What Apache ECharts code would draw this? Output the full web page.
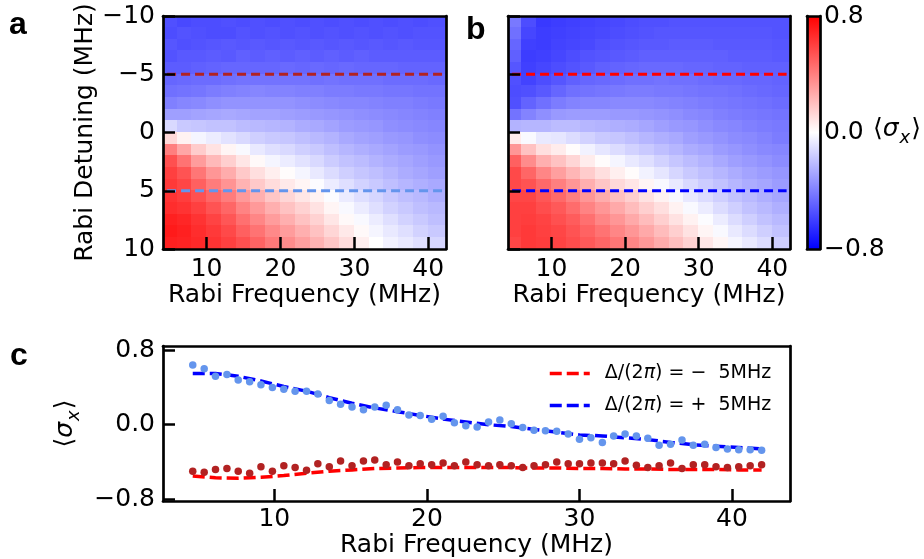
<!DOCTYPE html>
<html><head><meta charset="utf-8">
<script src="https://cdn.jsdelivr.net/npm/echarts@6/dist/echarts.min.js"></script>
<style>html,body{margin:0;padding:0;background:#fff}#c{width:924px;height:559px}</style>
</head><body><div id="c"></div>
<script>
// ---------- data ----------
const rabiCols = [5,7,9,11,13,15,17,19,21,23,25,27,29,31,33,35,37,39,41];
const detuningRows = [-9.5,-8.5,-7.5,-6.5,-5.5,-4.5,-3.5,-2.5,-1.5,-0.5,0.5,1.5,2.5,3.5,4.5,5.5,6.5,7.5,8.5,9.5];
// panel a: measured <sigma_x>, one array per Rabi-frequency column (top row = -9.5 MHz)
const expCols = [
[-0.55,-0.56,-0.53,-0.54,-0.51,-0.48,-0.45,-0.40,-0.30,-0.12,0.12,0.40,0.55,0.60,0.62,0.64,0.66,0.70,0.72,0.70],
[-0.57,-0.54,-0.55,-0.52,-0.51,-0.47,-0.44,-0.38,-0.30,-0.17,0.04,0.28,0.44,0.54,0.58,0.61,0.64,0.68,0.70,0.69],
[-0.56,-0.55,-0.54,-0.52,-0.50,-0.46,-0.43,-0.37,-0.29,-0.18,-0.03,0.16,0.31,0.43,0.50,0.55,0.60,0.64,0.66,0.67],
[-0.56,-0.56,-0.53,-0.51,-0.49,-0.46,-0.41,-0.35,-0.28,-0.19,-0.06,0.09,0.22,0.33,0.41,0.48,0.54,0.59,0.62,0.64],
[-0.55,-0.56,-0.52,-0.52,-0.48,-0.45,-0.40,-0.34,-0.27,-0.19,-0.09,0.03,0.15,0.26,0.34,0.41,0.48,0.53,0.57,0.60],
[-0.56,-0.54,-0.53,-0.50,-0.48,-0.44,-0.39,-0.34,-0.28,-0.21,-0.12,-0.02,0.08,0.17,0.24,0.32,0.39,0.45,0.50,0.55],
[-0.55,-0.55,-0.52,-0.51,-0.48,-0.44,-0.38,-0.34,-0.29,-0.22,-0.15,-0.07,0.02,0.10,0.17,0.25,0.32,0.38,0.44,0.49],
[-0.56,-0.54,-0.53,-0.50,-0.48,-0.44,-0.39,-0.34,-0.29,-0.23,-0.17,-0.10,-0.03,0.05,0.11,0.18,0.25,0.31,0.37,0.42],
[-0.55,-0.55,-0.52,-0.51,-0.47,-0.44,-0.39,-0.34,-0.30,-0.24,-0.18,-0.12,-0.06,0.01,0.07,0.13,0.19,0.25,0.31,0.36],
[-0.56,-0.54,-0.53,-0.50,-0.48,-0.44,-0.40,-0.35,-0.31,-0.26,-0.20,-0.15,-0.09,-0.03,0.03,0.08,0.14,0.19,0.25,0.30],
[-0.55,-0.55,-0.52,-0.51,-0.47,-0.45,-0.40,-0.36,-0.32,-0.27,-0.22,-0.17,-0.12,-0.07,-0.01,0.04,0.09,0.14,0.19,0.24],
[-0.56,-0.54,-0.53,-0.50,-0.48,-0.44,-0.41,-0.37,-0.33,-0.29,-0.24,-0.20,-0.16,-0.11,-0.06,-0.01,0.03,0.08,0.13,0.18],
[-0.55,-0.55,-0.52,-0.51,-0.47,-0.45,-0.41,-0.38,-0.34,-0.31,-0.27,-0.23,-0.19,-0.15,-0.10,-0.06,-0.02,0.02,0.07,0.11],
[-0.56,-0.54,-0.53,-0.50,-0.48,-0.45,-0.42,-0.38,-0.35,-0.32,-0.29,-0.25,-0.21,-0.18,-0.14,-0.10,-0.06,-0.02,0.02,0.05],
[-0.55,-0.55,-0.52,-0.51,-0.48,-0.45,-0.42,-0.39,-0.36,-0.33,-0.30,-0.27,-0.24,-0.20,-0.17,-0.13,-0.10,-0.06,-0.03,0.00],
[-0.56,-0.54,-0.53,-0.51,-0.48,-0.46,-0.43,-0.40,-0.37,-0.35,-0.32,-0.29,-0.26,-0.23,-0.20,-0.17,-0.14,-0.10,-0.07,-0.04],
[-0.55,-0.55,-0.52,-0.51,-0.49,-0.46,-0.43,-0.40,-0.38,-0.36,-0.33,-0.31,-0.28,-0.26,-0.23,-0.20,-0.17,-0.14,-0.10,-0.07],
[-0.56,-0.54,-0.53,-0.51,-0.49,-0.46,-0.44,-0.41,-0.39,-0.37,-0.35,-0.32,-0.30,-0.28,-0.25,-0.22,-0.20,-0.17,-0.14,-0.10],
[-0.55,-0.54,-0.53,-0.51,-0.49,-0.47,-0.44,-0.42,-0.40,-0.38,-0.36,-0.34,-0.32,-0.30,-0.27,-0.25,-0.22,-0.20,-0.17,-0.13]
];
// panel b: simulated <sigma_x>
const theoryCols = [
[-0.42,-0.45,-0.48,-0.50,-0.53,-0.55,-0.56,-0.55,-0.44,-0.24,0.06,0.33,0.50,0.57,0.57,0.58,0.60,0.60,0.60,0.58],
[-0.56,-0.58,-0.60,-0.61,-0.60,-0.59,-0.55,-0.49,-0.39,-0.23,-0.02,0.19,0.36,0.48,0.54,0.58,0.60,0.61,0.62,0.62],
[-0.62,-0.61,-0.61,-0.60,-0.58,-0.56,-0.52,-0.45,-0.35,-0.23,-0.07,0.10,0.25,0.38,0.47,0.53,0.56,0.59,0.60,0.61],
[-0.61,-0.60,-0.59,-0.58,-0.56,-0.53,-0.48,-0.41,-0.32,-0.21,-0.08,0.06,0.19,0.30,0.40,0.47,0.52,0.55,0.58,0.59],
[-0.60,-0.59,-0.58,-0.56,-0.54,-0.50,-0.45,-0.39,-0.31,-0.21,-0.11,0.01,0.13,0.23,0.33,0.40,0.46,0.51,0.54,0.56],
[-0.59,-0.58,-0.57,-0.54,-0.52,-0.48,-0.44,-0.38,-0.31,-0.23,-0.14,-0.04,0.06,0.16,0.25,0.33,0.39,0.45,0.49,0.52],
[-0.58,-0.57,-0.55,-0.53,-0.50,-0.47,-0.43,-0.38,-0.31,-0.24,-0.17,-0.08,0.01,0.10,0.18,0.26,0.33,0.38,0.44,0.48],
[-0.57,-0.56,-0.54,-0.52,-0.49,-0.46,-0.42,-0.37,-0.32,-0.25,-0.18,-0.11,-0.03,0.05,0.12,0.20,0.27,0.33,0.38,0.43],
[-0.56,-0.55,-0.53,-0.51,-0.48,-0.45,-0.41,-0.37,-0.32,-0.26,-0.20,-0.14,-0.07,0.01,0.08,0.15,0.21,0.27,0.33,0.38],
[-0.55,-0.54,-0.52,-0.50,-0.47,-0.45,-0.41,-0.37,-0.33,-0.28,-0.23,-0.17,-0.10,-0.04,0.03,0.09,0.15,0.21,0.27,0.32],
[-0.55,-0.53,-0.52,-0.50,-0.47,-0.44,-0.42,-0.38,-0.34,-0.30,-0.25,-0.20,-0.14,-0.08,-0.02,0.04,0.10,0.15,0.21,0.26],
[-0.54,-0.53,-0.51,-0.50,-0.47,-0.45,-0.42,-0.39,-0.35,-0.32,-0.27,-0.23,-0.18,-0.13,-0.07,-0.02,0.04,0.09,0.15,0.20],
[-0.54,-0.53,-0.51,-0.50,-0.48,-0.45,-0.43,-0.40,-0.37,-0.33,-0.30,-0.26,-0.21,-0.17,-0.12,-0.07,-0.02,0.04,0.09,0.14],
[-0.54,-0.53,-0.51,-0.50,-0.48,-0.46,-0.44,-0.41,-0.38,-0.35,-0.32,-0.28,-0.24,-0.20,-0.16,-0.11,-0.06,-0.01,0.03,0.08],
[-0.54,-0.53,-0.52,-0.50,-0.49,-0.47,-0.44,-0.42,-0.40,-0.37,-0.34,-0.31,-0.27,-0.23,-0.19,-0.15,-0.11,-0.06,-0.02,0.03],
[-0.54,-0.53,-0.52,-0.51,-0.49,-0.47,-0.45,-0.43,-0.41,-0.38,-0.36,-0.33,-0.30,-0.26,-0.23,-0.19,-0.15,-0.11,-0.07,-0.03],
[-0.54,-0.53,-0.52,-0.51,-0.50,-0.48,-0.46,-0.44,-0.42,-0.40,-0.37,-0.35,-0.32,-0.29,-0.26,-0.22,-0.19,-0.15,-0.11,-0.07],
[-0.54,-0.53,-0.52,-0.51,-0.50,-0.48,-0.47,-0.45,-0.43,-0.41,-0.39,-0.37,-0.34,-0.31,-0.28,-0.25,-0.22,-0.19,-0.15,-0.11],
[-0.54,-0.54,-0.53,-0.52,-0.50,-0.49,-0.48,-0.46,-0.44,-0.42,-0.41,-0.38,-0.36,-0.33,-0.31,-0.28,-0.25,-0.22,-0.19,-0.15]
];
// panel c: measured points along the two cuts
const rabiPts = [4.65,5.40,6.14,6.89,7.63,8.38,9.12,9.87,10.62,11.36,12.11,12.85,13.60,14.34,15.09,15.84,16.58,17.33,18.07,18.82,19.56,20.31,21.06,21.80,22.55,23.29,24.04,24.78,25.53,26.28,27.02,27.77,28.51,29.26,30.00,30.75,31.50,32.24,32.99,33.73,34.48,35.22,35.97,36.72,37.46,38.21,38.95,39.70,40.44,41.19,41.94];
const expPlus5 = [0.64,0.60,0.52,0.54,0.48,0.46,0.43,0.40,0.38,0.36,0.36,0.33,0.26,0.22,0.19,0.16,0.19,0.21,0.16,0.105,0.10,0.06,0.09,0.02,-0.01,-0.025,0.03,0.05,0.01,-0.03,-0.06,-0.065,-0.07,-0.10,-0.155,-0.14,-0.19,-0.12,-0.10,-0.12,-0.145,-0.22,-0.21,-0.165,-0.22,-0.21,-0.245,-0.26,-0.27,-0.27,-0.275];
const expMinus5 = [-0.50,-0.51,-0.48,-0.47,-0.50,-0.52,-0.45,-0.50,-0.44,-0.46,-0.49,-0.42,-0.45,-0.39,-0.44,-0.39,-0.38,-0.43,-0.40,-0.44,-0.42,-0.43,-0.41,-0.44,-0.40,-0.43,-0.44,-0.43,-0.44,-0.46,-0.44,-0.43,-0.40,-0.42,-0.42,-0.41,-0.41,-0.42,-0.39,-0.435,-0.46,-0.44,-0.41,-0.47,-0.43,-0.43,-0.45,-0.46,-0.45,-0.44,-0.43];
// panel c: simulated curves along the two cuts
const theoryX = [4.65,6.14,7.63,9.12,10.62,12.11,13.60,15.09,16.58,18.07,19.56,21.06,22.55,24.04,25.53,27.02,28.51,30.00,31.50,32.99,34.48,35.97,37.46,38.95,40.44,41.94];
const theoryPlus5 = [0.55,0.55,0.52,0.47,0.41,0.36,0.29,0.23,0.18,0.14,0.10,0.06,0.03,0.0,-0.02,-0.05,-0.08,-0.11,-0.12,-0.14,-0.16,-0.19,-0.215,-0.23,-0.245,-0.26];
const theoryMinus5 = [-0.55,-0.57,-0.575,-0.565,-0.545,-0.52,-0.50,-0.485,-0.47,-0.465,-0.46,-0.46,-0.46,-0.46,-0.46,-0.465,-0.465,-0.47,-0.47,-0.475,-0.475,-0.48,-0.48,-0.48,-0.485,-0.485];
// ticks / labels
const freqTicks = [10,20,30,40];
const detuningTicks = [-10,-5,0,5,10];
const sigmaTicks = [-0.8,0,0.8];
const cutDetunings = [-5,5];
const colorMin = -0.8, colorMax = 0.8;
const legendMinus = 'Δ/(2π) = −  5MHz';
const legendPlus = 'Δ/(2π) = +  5MHz';

// ---------- chart ----------
const FONT = 'DejaVu Sans';
const chart = echarts.init(document.getElementById('c'), null, {width:924, height:559});
const minusFmt = v => (v < 0 ? '\u2212' : '') + Math.abs(v);
const fmt1 = v => (v < 0 ? '\u2212' : '') + Math.abs(v).toFixed(1);
const lab = {fontSize:25, fontFamily:FONT, color:'#000', fontWeight:'normal'};
const frame = {show:true, onZero:false, lineStyle:{color:'#000', width:2.7}};
const sigmaRich = {
  b:{fontSize:25, fontFamily:FONT, fontWeight:'normal', color:'#000', verticalAlign:'bottom', padding:[0,0,5,0]},
  s:{fontSize:25, fontFamily:FONT, fontWeight:'normal', fontStyle:'italic', color:'#000', verticalAlign:'bottom', padding:[0,0,5,0]},
  x:{fontSize:18, fontFamily:FONT, fontWeight:'normal', fontStyle:'italic', color:'#000', verticalAlign:'bottom', padding:[0,1,0,1]}
};
const sigmaText = '{b|⟨}{s|σ}{x|x}{b|⟩}';

function plainAxis(gi, min, max, pos, extra) {
  return Object.assign({gridIndex:gi, type:'value', min:min, max:max, position:pos, z:10,
    axisLine:frame, axisTick:{show:false}, axisLabel:{show:false}, splitLine:{show:false}}, extra || {});
}
function tickAxis(gi, min, max, pos, ticks, labels, fmt, margin, extra) {
  return Object.assign({gridIndex:gi, type:'value', min:min, max:max, position:pos, z:10,
    axisLine:frame,
    axisTick:{show:true, inside:true, length:12, lineStyle:{color:'#000', width:2.5}, customValues:ticks},
    axisLabel:Object.assign({show:labels, customValues:ticks, formatter:fmt, margin:margin}, lab),
    splitLine:{show:false}}, extra || {});
}
const xName = {name:'Rabi Frequency (MHz)', nameLocation:'middle', nameGap:34, nameTextStyle:lab};

function heatRender(cols, rows) {
  const dx = cols[1] - cols[0], dy = rows[1] - rows[0];
  const nR = rows.length, nC = cols.length;
  return function (params, api) {
    const ci = Math.floor(params.dataIndex / nR);
    const x = api.value(0), y = api.value(1);
    const xl = x - (ci === 0 ? 2 : 0.5) * dx, xr = x + (ci === nC - 1 ? 2 : 0.5) * dx;
    const p1 = api.coord([xl, y - dy / 2]), p2 = api.coord([xr, y + dy / 2]);
    const r = {x: Math.floor(Math.min(p1[0], p2[0])), y: Math.floor(Math.min(p1[1], p2[1]))};
    r.width = Math.ceil(Math.max(p1[0], p2[0])) - r.x;
    r.height = Math.ceil(Math.max(p1[1], p2[1])) - r.y;
    const cs = params.coordSys;
    const c = echarts.graphic.clipRectByRect(r, {x: cs.x, y: cs.y, width: cs.width, height: cs.height});
    return c && {type:'rect', shape:c, style:{fill: api.visual('color')}};
  };
}
function gridData(cols, rows, grid) {
  const out = [];
  cols.forEach((x, ci) => rows.forEach((y, ri) => out.push([x, y, grid[ci][ri]])));
  return out;
}
function cutLine(xi, yi, d, color, w, dash) {
  return {type:'line', xAxisIndex:xi, yAxisIndex:yi, z:4, silent:true, symbol:'none',
    data:[[rabiPts[0], d], [rabiPts[rabiPts.length - 1], d]],
    lineStyle:{color:color, width:w, type:dash}};
}
const panelLabel = {fontFamily:'Liberation Sans', fontWeight:'bold', fontSize:32, color:'#000'};

const option = {
  animation:false,
  backgroundColor:'#fff',
  title:[
    {text:'a', left:9, top:9, padding:0, textStyle:panelLabel},
    {text:'b', left:466, top:14, padding:0, textStyle:panelLabel},
    {text:'c', left:10, top:340, padding:0, textStyle:panelLabel},
    {text:sigmaText, left:873, top:117, padding:0, textStyle:{fontWeight:'normal', rich:sigmaRich}}
  ],
  grid:[
    {left:163, top:16, width:283, height:233},
    {left:508, top:16, width:282, height:233},
    {left:807, top:16, width:13, height:233},
    {left:163, top:346, width:627, height:156}
  ],
  xAxis:[
    tickAxis(0, 4.1, 42.4, 'bottom', freqTicks, true, null, 8, xName),
    plainAxis(0, 4.1, 42.4, 'top'),
    tickAxis(1, 4.1, 42.4, 'bottom', freqTicks, true, null, 8, xName),
    plainAxis(1, 4.1, 42.4, 'top'),
    plainAxis(2, 0, 1, 'bottom'),
    plainAxis(2, 0, 1, 'top'),
    tickAxis(3, 2.7, 43.8, 'bottom', freqTicks, true, null, 6, Object.assign({}, xName, {nameGap:23})),
    plainAxis(3, 2.7, 43.8, 'top')
  ],
  yAxis:[
    tickAxis(0, -10, 10, 'left', detuningTicks, true, minusFmt, 8,
      {inverse:true, name:'Rabi Detuning (MHz)', nameLocation:'middle', nameGap:62, nameRotate:90, nameTextStyle:lab}),
    plainAxis(0, -10, 10, 'right', {inverse:true}),
    tickAxis(1, -10, 10, 'left', detuningTicks, false, minusFmt, 8, {inverse:true}),
    plainAxis(1, -10, 10, 'right', {inverse:true}),
    plainAxis(2, colorMin, colorMax, 'left'),
    plainAxis(2, colorMin, colorMax, 'right', {axisLabel:Object.assign({show:true, customValues:sigmaTicks, formatter:fmt1, margin:4}, lab)}),
    tickAxis(3, -0.82, 0.845, 'left', sigmaTicks, true, fmt1, 8,
      {name:sigmaText, nameLocation:'middle', nameGap:62, nameRotate:90, nameTextStyle:{rich:sigmaRich}}),
    plainAxis(3, -0.82, 0.845, 'right')
  ],
  visualMap:[{type:'continuous', show:false, seriesIndex:[0,1], dimension:2, min:colorMin, max:colorMax,
    inRange:{color:['#0000ff','#ffffff','#ff0000']}}],
  legend:{
    data:[legendMinus, legendPlus], orient:'vertical', left:548, top:364, itemGap:13,
    itemWidth:40, itemHeight:16, padding:0,
    itemStyle:{opacity:0},
    lineStyle:{width:3.5},
    formatter: n => n.replace('π', '{i|π}'),
    textStyle:{fontSize:19, fontFamily:FONT, color:'#000', padding:[0,0,0,10],
      rich:{i:{fontSize:19, fontFamily:FONT, fontStyle:'italic', color:'#000'}}}
  },
  series:[
    {type:'custom', xAxisIndex:0, yAxisIndex:0, z:1, silent:true, renderItem:heatRender(rabiCols, detuningRows),
      dimensions:['f','d','v'], encode:{x:0, y:1}, data:gridData(rabiCols, detuningRows, expCols)},
    {type:'custom', xAxisIndex:2, yAxisIndex:2, z:1, silent:true, renderItem:heatRender(rabiCols, detuningRows),
      dimensions:['f','d','v'], encode:{x:0, y:1}, data:gridData(rabiCols, detuningRows, theoryCols)},
    {type:'custom', xAxisIndex:4, yAxisIndex:4, z:1, silent:true,
      encode:{x:0, y:[1,2]}, data:[[0, colorMin, colorMax]],
      renderItem:(params, api) => {
        const p1 = api.coord([0, api.value(1)]), p2 = api.coord([1, api.value(2)]);
        return {type:'rect', shape:{x:p1[0], y:p2[1], width:p2[0]-p1[0], height:p1[1]-p2[1]},
          style:{fill:new echarts.graphic.LinearGradient(0,0,0,1,[
            {offset:0, color:'#ff0000'}, {offset:0.5, color:'#ffffff'}, {offset:1, color:'#0000ff'}])}};
      }},
    cutLine(0, 0, cutDetunings[0], '#b22222', 3, [9,5]),
    cutLine(0, 0, cutDetunings[1], '#6495ed', 3, [9,5]),
    cutLine(2, 2, cutDetunings[0], '#ff0000', 3, [9,5]),
    cutLine(2, 2, cutDetunings[1], '#0000ff', 3, [9,5]),
    {type:'line', name:legendMinus, xAxisIndex:6, yAxisIndex:6, z:3, symbol:'none', silent:true,
      data:theoryX.map((x, i) => [x, theoryMinus5[i]]), lineStyle:{color:'#ff0000', width:3.5, type:[12,5]}, itemStyle:{color:'#ff0000'}},
    {type:'line', name:legendPlus, xAxisIndex:6, yAxisIndex:6, z:3, symbol:'none', silent:true,
      data:theoryX.map((x, i) => [x, theoryPlus5[i]]), lineStyle:{color:'#0000ff', width:3.5, type:[12,5]}, itemStyle:{color:'#0000ff'}},
    {type:'scatter', xAxisIndex:6, yAxisIndex:6, z:4, silent:true, symbolSize:7.5,
      data:rabiPts.map((x, i) => [x, expMinus5[i]]), itemStyle:{color:'#b22222', opacity:1}},
    {type:'scatter', xAxisIndex:6, yAxisIndex:6, z:4, silent:true, symbolSize:7.5,
      data:rabiPts.map((x, i) => [x, expPlus5[i]]), itemStyle:{color:'#6495ed', opacity:1}}
  ]
};
chart.setOption(option);
</script></body></html>
